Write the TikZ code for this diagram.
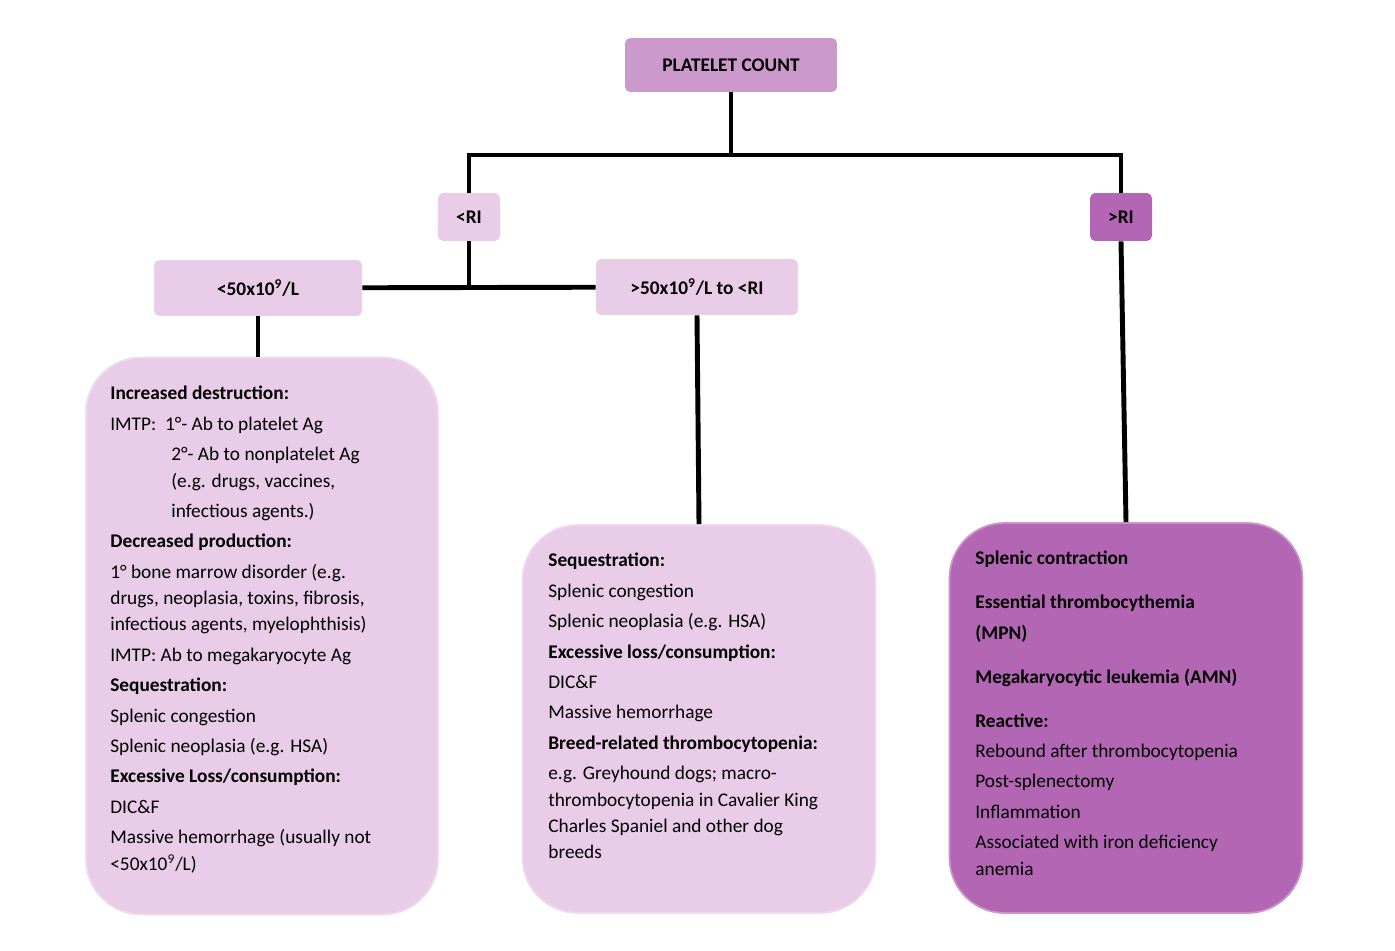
\documentclass[tikz,border=0pt]{standalone}
\usepackage{fontspec}
\setmainfont{Carlito}
\usetikzlibrary{positioning}
\definecolor{pinkLight}{HTML}{E8CCE8}
\definecolor{pinkMid}{HTML}{CC99CC}
\definecolor{pinkDark}{HTML}{B366B3}
\tikzset{headbox/.style={fill=pinkLight, rounded corners=3pt, font=\bfseries\fontsize{11}{13}\selectfont}}
\tikzset{bigbox/.style={draw=pinkLight!70!white, line width=1pt, fill=pinkLight, rounded corners=1.1cm}}
\tikzset{boxtext/.style={anchor=north west, inner sep=0pt, align=left, font=\fontsize{11}{15}\selectfont}}
\tikzset{link/.style={line width=2.8pt}}
\newcommand{\gp}{\\[2.3pt]}
\begin{document}
\begin{tikzpicture}[x=0.02cm, y=-0.02cm]
\useasboundingbox (0,0) rectangle (1395,950);

\node[headbox, fill=pinkMid, minimum width=4.24cm, minimum height=1.08cm] (count) at (731,65) {PLATELET COUNT};
\node[headbox, minimum width=1.24cm, minimum height=0.96cm] (low) at (469,217) {<RI};
\node[headbox, fill=pinkDark, minimum width=1.24cm, minimum height=0.96cm] (high) at (1121,217) {>RI};
\node[headbox, minimum width=4.16cm, minimum height=1.12cm] (under) at (258,288) {<50x10\textsuperscript{9}/L};
\node[headbox, minimum width=4.04cm, minimum height=1.12cm] (over) at (697,287) {>50x10\textsuperscript{9}/L to <RI};

\node[bigbox, minimum width=7.04cm, minimum height=11.14cm] (leftbox) at (262,636) {};
\node[bigbox, minimum width=7.06cm, minimum height=7.76cm] (midbox) at (699,719) {};
\node[bigbox, draw=pinkDark!70!white, fill=pinkDark, minimum width=7.06cm, minimum height=7.8cm] (rightbox) at (1126,718) {};

\coordinate (split) at (731,155);
\coordinate (meet) at (469,290);
\draw[link] (count) -- (split);
\draw[link] (low.north) |- (split) -| (high.north);
\draw[link] (low) -- (meet);
\draw[link] (under) -- (over);
\draw[link] (under) -- (under |- leftbox.north);
\draw[link] (over.south) -- (midbox.north);
\draw[link] (high.south) -- (rightbox.north);

\node[boxtext] (lefttext) at (110,386) {\textbf{Increased destruction:}\gp
IMTP:\ \ 1°- Ab to platelet Ag\gp
\hspace{1.22cm}2°- Ab to nonplatelet Ag\\
\hspace{1.22cm}(e.g. drugs, vaccines,\gp
\hspace{1.22cm}infectious agents.)\gp
\textbf{Decreased production:}\gp
1° bone marrow disorder (e.g.\\
drugs, neoplasia, toxins, fibrosis,\\
infectious agents, myelophthisis)\gp
IMTP: Ab to megakaryocyte Ag\gp
\textbf{Sequestration:}\gp
Splenic congestion\gp
Splenic neoplasia (e.g. HSA)\gp
\textbf{Excessive Loss/consumption:}\gp
DIC\&F\gp
Massive hemorrhage (usually not\\
<50x10\textsuperscript{9}/L)};

\node[boxtext] (midtext) at (548,553) {\textbf{Sequestration:}\gp
Splenic congestion\gp
Splenic neoplasia (e.g. HSA)\gp
\textbf{Excessive loss/consumption:}\gp
DIC\&F\gp
Massive hemorrhage\gp
\textbf{Breed-related thrombocytopenia:}\gp
e.g. Greyhound dogs; macro-\\
thrombocytopenia in Cavalier King\\
Charles Spaniel and other dog\\
breeds};

\node[boxtext] (righttext) at (975,551) {\textbf{Splenic contraction}\\[10pt]
\textbf{Essential thrombocythemia}\gp
\textbf{(MPN)}\\[10pt]
\textbf{Megakaryocytic leukemia (AMN)}\\[10pt]
\textbf{Reactive:}\gp
Rebound after thrombocytopenia\gp
Post-splenectomy\gp
Inflammation\gp
Associated with iron deficiency\\
anemia};
\end{tikzpicture}
\end{document}
